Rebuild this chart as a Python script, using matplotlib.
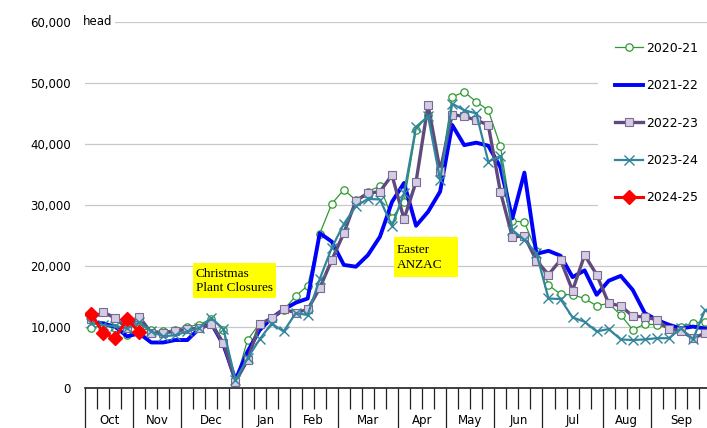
import numpy as np
import matplotlib.pyplot as plt
from matplotlib.patches import Rectangle

# weekly slaughter, head, Oct week 1 .. Sep week 5
months = ['Oct', 'Nov', 'Dec', 'Jan', 'Feb', 'Mar', 'Apr', 'May', 'Jun', 'Jul', 'Aug', 'Sep']
weeks_in_month = [4, 4, 5, 4, 4, 5, 4, 4, 4, 5, 4, 5]

s2020_21 = [9900, 10300, 9800, 8700, 9800, 9500, 9300, 9600, 10100, 10400, 11400, 9500, 1000,
            7900, 10600, 11500, 12800, 15100, 16800, 25300, 30200, 32500, 30800, 32200, 33100, 27900,
            30500, 42300, 44800, 35000, 47700, 48500, 46900, 45500, 39700, 27400, 27200, 22400, 16900,
            15400, 15300, 14700, 13500, 13900, 12000, 9600, 10500, 10400, 9800, 10100, 10700, 10900]
s2021_22 = [10900, 10600, 10100, 8500, 9000, 7500, 7500, 7900, 7900, 9800, 10600, 7100, 1400,
            6000, 9500, 11500, 12900, 14000, 14700, 25400, 24000, 20200, 19900, 21800, 24800, 30500,
            33600, 26600, 28900, 32200, 43100, 39800, 40200, 39700, 36200, 27800, 35300, 22000, 22500,
            21700, 18200, 19300, 15300, 17600, 18400, 16100, 12300, 11200, 10400, 9800, 10100, 9800]
s2022_23 = [11300, 12500, 11500, 9800, 11700, 9100, 9100, 9300, 9700, 9800, 10500, 7400, 1100,
            4600, 10500, 11500, 12900, 12400, 12900, 16400, 21000, 25400, 30700, 31900, 32200, 34900,
            27700, 33800, 46400, 35600, 44800, 44500, 43900, 43100, 32200, 24800, 24900, 20900, 18600,
            21000, 16000, 21800, 18600, 13900, 13500, 11800, 11700, 11200, 9700, 9400, 8200, 9000]
s2023_24 = [10700, 10300, 10200, 9800, 10800, 9300, 8500, 8700, 9300, 9900, 11500, 9700, 1300,
            4900, 8000, 10600, 9300, 12300, 12000, 17900, 23000, 26900, 29800, 31000, 30900, 26600,
            31900, 42800, 44500, 34100, 46600, 45500, 45000, 37100, 38000, 25900, 24300, 22100, 14700,
            14600, 11600, 10900, 9300, 9700, 8000, 7900, 8000, 8200, 8200, 9800, 8000, 12800]
s2024_25 = [12200, 9100, 8200, 11300, 9200]

fig = plt.figure(figsize=(7.07, 4.28), dpi=100)
ax = fig.add_axes([85 / 707, 1 - 388.3 / 428, 626 / 707, 366.6 / 428])

x = np.arange(52) + 0.5
ax.plot(x, s2020_21, color='#2E9A2E', lw=0.9, marker='o', ms=5.3, mfc='white',
        mec='#2E9A2E', mew=0.9, label='2020-21', zorder=3)
ax.plot(x, s2021_22, color='#0000FF', lw=2.8, label='2021-22', zorder=4)
ax.plot(x, s2022_23, color='#604A7B', lw=2.4, marker='s', ms=6, mfc='#D4CCE2',
        mec='#7A6A96', mew=0.8, label='2022-23', zorder=5)
ax.plot(x, s2023_24, color='#31859C', lw=1.6, marker='x', ms=7, mec='#31859C',
        mew=1.0, label='2023-24', zorder=6)
ax.plot(x[:len(s2024_25)], s2024_25, color='#FF0000', lw=2.2, marker='D', ms=7.5,
        mfc='#FF0000', mec='#FF0000', label='2024-25', zorder=7)

ax.set_xlim(0, 52)
ax.set_ylim(0, 60000)

# y axis
ax.set_yticks(np.arange(0, 60001, 10000))
ax.set_yticklabels(['0'] + [f'{v:,}' for v in range(10000, 60001, 10000)])
ax.tick_params(axis='y', length=0, pad=10, labelsize=8.5)
ax.grid(axis='y', color='#C8C8C8', lw=0.9)
ax.set_axisbelow(True)
ax.text(-0.15, 60000, 'head', ha='left', va='center', fontsize=8.5,
        bbox=dict(facecolor='white', edgecolor='none', pad=1.5), zorder=2)

# x axis: week ticks, month separators and month names
bounds = np.concatenate([[0], np.cumsum(weeks_in_month)])
ax.set_xticks(bounds)
ax.set_xticks([w for w in range(53) if w not in bounds], minor=True)
ax.set_xticklabels([])
ax.tick_params(axis='x', which='major', length=30, width=0.9, color='#202020')
ax.tick_params(axis='x', which='minor', length=15, width=0.9, color='#202020')
for m, (a, b) in enumerate(zip(bounds[:-1], bounds[1:])):
    ax.text((a + b) / 2, -0.089, months[m], transform=ax.get_xaxis_transform(),
            ha='center', va='center', fontsize=8.5)

for side in ['left', 'right', 'top']:
    ax.spines[side].set_visible(False)
ax.spines['bottom'].set_linewidth(1.2)
ax.spines['bottom'].set_color('#202020')

# holiday notes
ax.add_patch(Rectangle((8.97, 14780), 6.89, 5730, facecolor='#FFFF00', edgecolor='none', zorder=2))
ax.text(9.2, 17500, 'Christmas\nPlant Closures', family='Liberation Serif', fontsize=9.5,
        ha='left', va='center', linespacing=1.2, zorder=2.1)
ax.add_patch(Rectangle((25.66, 18220), 5.32, 6550, facecolor='#FFFF00', edgecolor='none', zorder=2))
ax.text(25.9, 21400, 'Easter\nANZAC', family='Liberation Serif', fontsize=9.5,
        ha='left', va='center', linespacing=1.3, zorder=2.1)

# legend on a white panel
ax.add_patch(Rectangle((0.8195, 0.4727), 0.2, 0.518, transform=ax.transAxes,
                       facecolor='white', edgecolor='none', zorder=1.8, clip_on=False))
ax.legend(loc='upper left', bbox_to_anchor=((615 - 85) / 626, 0.945), frameon=False,
          borderpad=0, borderaxespad=0, labelspacing=1.95, handlelength=2.2,
          handletextpad=0.3, fontsize=9)

fig.savefig('out.png', dpi=100)
